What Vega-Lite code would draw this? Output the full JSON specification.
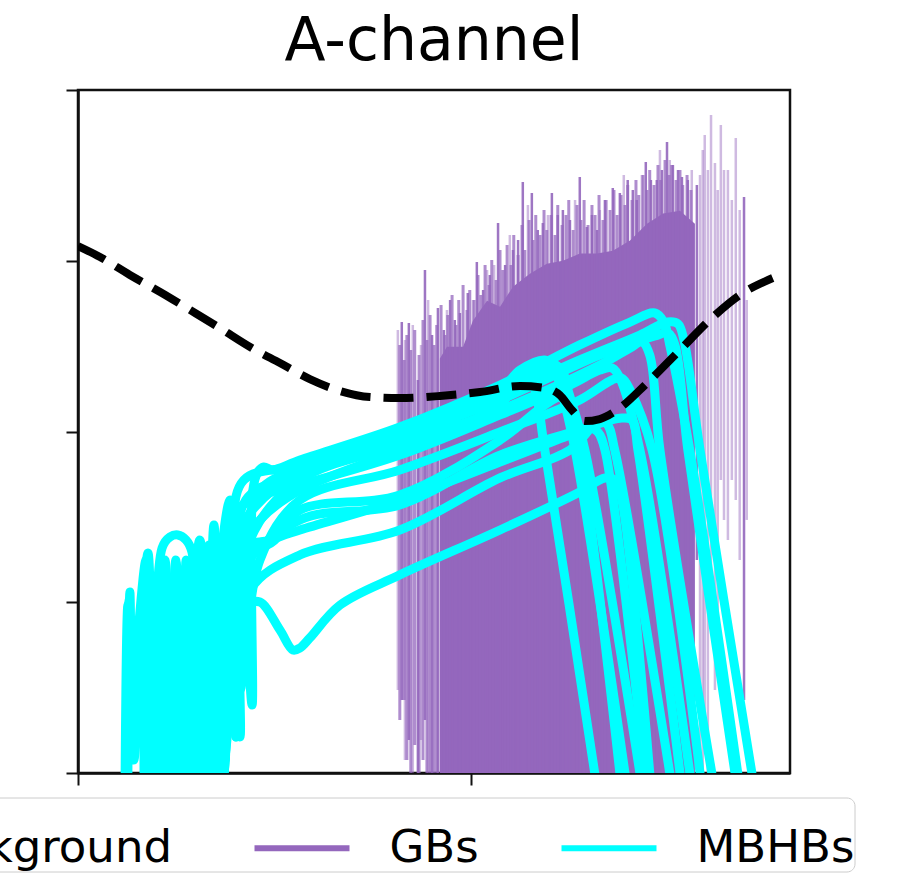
{
  "$schema": "https://vega.github.io/schema/vega-lite/v6.json",
  "width": 712,
  "height": 683,
  "autosize": {"type": "none"},
  "padding": {"left": 78, "top": 90, "right": 113, "bottom": 109},
  "background": "white",
  "title": {"text": "A-channel", "fontSize": 60, "font": "DejaVu Sans", "fontWeight": "normal", "color": "#000", "anchor": "middle", "baseline": "alphabetic", "offset": -31},
  "config": {
    "view": {"stroke": "#111", "strokeWidth": 2.5},
    "axis": {"labels": false, "grid": false, "ticks": true, "tickSize": 12, "tickWidth": 2, "tickColor": "#111", "domainColor": "#111", "domainWidth": 2.5, "zindex": 1}
  },
  "datasets": {
    "bg": [
      {"f": 0, "h": 3.086, "series": "Background"},
      {"f": 0.056, "h": 3.022, "series": "Background"},
      {"f": 0.132, "h": 2.917, "series": "Background"},
      {"f": 0.209, "h": 2.817, "series": "Background"},
      {"f": 0.285, "h": 2.712, "series": "Background"},
      {"f": 0.361, "h": 2.606, "series": "Background"},
      {"f": 0.438, "h": 2.495, "series": "Background"},
      {"f": 0.514, "h": 2.401, "series": "Background"},
      {"f": 0.590, "h": 2.307, "series": "Background"},
      {"f": 0.667, "h": 2.237, "series": "Background"},
      {"f": 0.743, "h": 2.202, "series": "Background"},
      {"f": 0.819, "h": 2.196, "series": "Background"},
      {"f": 0.921, "h": 2.208, "series": "Background"},
      {"f": 1.023, "h": 2.231, "series": "Background"},
      {"f": 1.125, "h": 2.266, "series": "Background"},
      {"f": 1.188, "h": 2.255, "series": "Background"},
      {"f": 1.226, "h": 2.214, "series": "Background"},
      {"f": 1.257, "h": 2.126, "series": "Background"},
      {"f": 1.290, "h": 2.061, "series": "Background"},
      {"f": 1.328, "h": 2.073, "series": "Background"},
      {"f": 1.379, "h": 2.138, "series": "Background"},
      {"f": 1.443, "h": 2.272, "series": "Background"},
      {"f": 1.532, "h": 2.477, "series": "Background"},
      {"f": 1.616, "h": 2.671, "series": "Background"},
      {"f": 1.684, "h": 2.799, "series": "Background"},
      {"f": 1.768, "h": 2.899, "series": "Background"}
    ],
    "gbArea": [
      {"f": 0.921, "h": 2.427},
      {"f": 0.939, "h": 2.497},
      {"f": 0.980, "h": 2.497},
      {"f": 1.005, "h": 2.649},
      {"f": 1.041, "h": 2.766},
      {"f": 1.074, "h": 2.731},
      {"f": 1.107, "h": 2.848},
      {"f": 1.150, "h": 2.924},
      {"f": 1.193, "h": 2.983},
      {"f": 1.234, "h": 3.000},
      {"f": 1.277, "h": 3.042},
      {"f": 1.321, "h": 3.042},
      {"f": 1.361, "h": 3.059},
      {"f": 1.405, "h": 3.118},
      {"f": 1.448, "h": 3.217},
      {"f": 1.489, "h": 3.276},
      {"f": 1.532, "h": 3.293},
      {"f": 1.570, "h": 3.217}
    ],
    "gbMid": [
      {"f": 0.819, "h": 0.310, "h2": 2.507}, {"f": 0.830, "h": 0.428, "h2": 2.419}, {"f": 0.837, "h": 0.076, "h2": 2.565}, {"f": 0.847, "h": 0, "h2": 2.477},
      {"f": 0.857, "h": 0.164, "h2": 2.594}, {"f": 0.868, "h": 0, "h2": 2.448}, {"f": 0.878, "h": 0.076, "h2": 2.653}, {"f": 0.888, "h": 0, "h2": 2.536},
      {"f": 0.896, "h": 0, "h2": 2.682}, {"f": 0.906, "h": 0, "h2": 2.507}, {"f": 0.913, "h": 0, "h2": 2.624}, {"f": 0.924, "h": 0, "h2": 2.741},
      {"f": 0.934, "h": 0, "h2": 2.565}, {"f": 0.941, "h": 0, "h2": 2.682}, {"f": 0.952, "h": 0, "h2": 2.799}, {"f": 0.962, "h": 0, "h2": 2.624},
      {"f": 0.969, "h": 0, "h2": 2.770}, {"f": 0.980, "h": 0, "h2": 2.858}, {"f": 0.990, "h": 0, "h2": 2.712}, {"f": 0.997, "h": 0, "h2": 2.829},
      {"f": 1.008, "h": 0, "h2": 2.770}, {"f": 1.018, "h": 0, "h2": 2.917}, {"f": 1.025, "h": 0, "h2": 2.799}, {"f": 1.036, "h": 0, "h2": 2.975},
      {"f": 1.046, "h": 0, "h2": 2.858}, {"f": 1.053, "h": 0, "h2": 3.004}, {"f": 1.064, "h": 0, "h2": 2.887}, {"f": 1.074, "h": 0, "h2": 3.063},
      {"f": 1.081, "h": 0, "h2": 2.946}, {"f": 1.092, "h": 0, "h2": 3.092}, {"f": 1.102, "h": 0, "h2": 2.975}, {"f": 1.109, "h": 0, "h2": 3.151},
      {"f": 1.120, "h": 0, "h2": 3.034}, {"f": 1.130, "h": 0, "h2": 3.209}, {"f": 1.137, "h": 0, "h2": 3.063}, {"f": 1.148, "h": 0, "h2": 3.239},
      {"f": 1.158, "h": 0, "h2": 3.122}, {"f": 1.165, "h": 0, "h2": 3.268}, {"f": 1.176, "h": 0, "h2": 3.151}, {"f": 1.186, "h": 0, "h2": 3.297},
      {"f": 1.193, "h": 0, "h2": 3.180}, {"f": 1.204, "h": 0, "h2": 3.268}, {"f": 1.214, "h": 0, "h2": 3.151}, {"f": 1.221, "h": 0, "h2": 3.326},
      {"f": 1.232, "h": 0, "h2": 3.209}, {"f": 1.242, "h": 0, "h2": 3.268}, {"f": 1.249, "h": 0, "h2": 3.356}, {"f": 1.260, "h": 0, "h2": 3.180},
      {"f": 1.270, "h": 0, "h2": 3.326}, {"f": 1.280, "h": 0, "h2": 3.239}, {"f": 1.288, "h": 0, "h2": 3.356}, {"f": 1.298, "h": 0, "h2": 3.209},
      {"f": 1.308, "h": 0, "h2": 3.326}, {"f": 1.316, "h": 0, "h2": 3.268}, {"f": 1.326, "h": 0, "h2": 3.385}, {"f": 1.336, "h": 0, "h2": 3.239},
      {"f": 1.344, "h": 0, "h2": 3.356}, {"f": 1.354, "h": 0, "h2": 3.297}, {"f": 1.364, "h": 0, "h2": 3.414}, {"f": 1.372, "h": 0, "h2": 3.268},
      {"f": 1.382, "h": 0, "h2": 3.385}, {"f": 1.392, "h": 0, "h2": 3.326}, {"f": 1.399, "h": 0, "h2": 3.444}, {"f": 1.410, "h": 0, "h2": 3.356},
      {"f": 1.420, "h": 0, "h2": 3.473}, {"f": 1.427, "h": 0, "h2": 3.385}, {"f": 1.438, "h": 0, "h2": 3.502}, {"f": 1.448, "h": 0, "h2": 3.414},
      {"f": 1.455, "h": 0, "h2": 3.531}, {"f": 1.466, "h": 0, "h2": 3.444}, {"f": 1.476, "h": 0, "h2": 3.561}, {"f": 1.483, "h": 0, "h2": 3.473},
      {"f": 1.494, "h": 0, "h2": 3.590}, {"f": 1.504, "h": 0, "h2": 3.502}, {"f": 1.511, "h": 0, "h2": 3.561}, {"f": 1.522, "h": 0, "h2": 3.473},
      {"f": 1.532, "h": 0, "h2": 3.531}, {"f": 1.539, "h": 0, "h2": 3.444}, {"f": 1.550, "h": 0, "h2": 3.502}, {"f": 1.560, "h": 0, "h2": 3.414}
    ],
    "gbBright": [
      {"f": 0.824, "h": 0.428, "h2": 2.641},
      {"f": 0.842, "h": 0.193, "h2": 2.635},
      {"f": 0.865, "h": 0, "h2": 2.302},
      {"f": 0.883, "h": 0.310, "h2": 2.946},
      {"f": 0.901, "h": 0, "h2": 2.565},
      {"f": 0.916, "h": 0, "h2": 2.723},
      {"f": 0.931, "h": 0, "h2": 2.594},
      {"f": 0.947, "h": 0, "h2": 2.770},
      {"f": 0.959, "h": 0, "h2": 2.653},
      {"f": 0.972, "h": 0, "h2": 2.694},
      {"f": 0.992, "h": 0, "h2": 2.811},
      {"f": 1.015, "h": 0, "h2": 2.993},
      {"f": 1.031, "h": 0, "h2": 2.829},
      {"f": 1.048, "h": 0, "h2": 2.917},
      {"f": 1.069, "h": 0, "h2": 3.221},
      {"f": 1.087, "h": 0, "h2": 2.975},
      {"f": 1.107, "h": 0, "h2": 3.063},
      {"f": 1.120, "h": 0, "h2": 3.122},
      {"f": 1.132, "h": 0, "h2": 3.461},
      {"f": 1.155, "h": 0, "h2": 3.397},
      {"f": 1.170, "h": 0, "h2": 3.180},
      {"f": 1.183, "h": 0, "h2": 3.221},
      {"f": 1.206, "h": 0, "h2": 3.397},
      {"f": 1.221, "h": 0, "h2": 3.268},
      {"f": 1.234, "h": 0, "h2": 3.297},
      {"f": 1.252, "h": 0, "h2": 3.239},
      {"f": 1.277, "h": 0, "h2": 3.490},
      {"f": 1.295, "h": 0, "h2": 3.198},
      {"f": 1.308, "h": 0, "h2": 3.268},
      {"f": 1.321, "h": 0, "h2": 3.180},
      {"f": 1.341, "h": 0, "h2": 3.356},
      {"f": 1.361, "h": 0, "h2": 3.426},
      {"f": 1.379, "h": 0, "h2": 3.397},
      {"f": 1.399, "h": 0, "h2": 3.473},
      {"f": 1.412, "h": 0, "h2": 3.414},
      {"f": 1.422, "h": 0, "h2": 3.356},
      {"f": 1.445, "h": 0, "h2": 3.578},
      {"f": 1.458, "h": 0, "h2": 3.473},
      {"f": 1.473, "h": 0, "h2": 3.473},
      {"f": 1.486, "h": 0, "h2": 3.531},
      {"f": 1.499, "h": 0, "h2": 3.695},
      {"f": 1.514, "h": 0, "h2": 3.561},
      {"f": 1.527, "h": 0, "h2": 3.531},
      {"f": 1.537, "h": 0, "h2": 3.490},
      {"f": 1.552, "h": 0, "h2": 3.473},
      {"f": 1.575, "h": 1.247, "h2": 3.444},
      {"f": 1.695, "h": 0.428, "h2": 3.373}
    ],
    "gbFaint": [
      {"f": 0.814, "h": 0.486, "h2": 2.594},
      {"f": 0.832, "h": 0.076, "h2": 2.536},
      {"f": 0.852, "h": 0, "h2": 2.624},
      {"f": 0.873, "h": 0.193, "h2": 2.507},
      {"f": 0.891, "h": 0, "h2": 2.770},
      {"f": 0.939, "h": 0, "h2": 2.712},
      {"f": 1.005, "h": 0, "h2": 2.770},
      {"f": 1.041, "h": 0, "h2": 2.946},
      {"f": 1.059, "h": 0, "h2": 2.975},
      {"f": 1.099, "h": 0, "h2": 3.151},
      {"f": 1.145, "h": 0, "h2": 3.326},
      {"f": 1.196, "h": 0, "h2": 3.268},
      {"f": 1.265, "h": 0, "h2": 3.356},
      {"f": 1.328, "h": 0, "h2": 3.297},
      {"f": 1.389, "h": 0, "h2": 3.502},
      {"f": 1.435, "h": 0, "h2": 3.502},
      {"f": 1.481, "h": 0, "h2": 3.649},
      {"f": 1.506, "h": 0, "h2": 3.590},
      {"f": 1.562, "h": 0.428, "h2": 3.531},
      {"f": 1.583, "h": 0, "h2": 3.502},
      {"f": 1.590, "h": 0, "h2": 3.649},
      {"f": 1.595, "h": 0.310, "h2": 3.736},
      {"f": 1.603, "h": 0, "h2": 3.531},
      {"f": 1.611, "h": 1.013, "h2": 3.854},
      {"f": 1.621, "h": 0.486, "h2": 3.572},
      {"f": 1.628, "h": 0.720, "h2": 3.414},
      {"f": 1.636, "h": 1.716, "h2": 3.795},
      {"f": 1.644, "h": 1.482, "h2": 3.531},
      {"f": 1.654, "h": 1.365, "h2": 3.531},
      {"f": 1.664, "h": 1.716, "h2": 3.356},
      {"f": 1.674, "h": 1.599, "h2": 3.719},
      {"f": 1.684, "h": 1.247, "h2": 3.297},
      {"f": 1.702, "h": 1.482, "h2": 2.770}
    ],
    "mbhb": [
      {"t": 1, "f": 0.349, "h": 0}, {"t": 1, "f": 0.351, "h": 1.247}, {"t": 1, "f": 0.366, "h": 0.193}, {"t": 1, "f": 0.382, "h": 1.365}, {"t": 1, "f": 0.402, "h": 0.211}, {"t": 1, "f": 0.412, "h": 1.482}, {"t": 1, "f": 0.443, "h": 0.398}, {"t": 1, "f": 0.445, "h": 1.657}, {"t": 1, "f": 0.458, "h": 1.763}, {"t": 1, "f": 0.473, "h": 1.792}, {"t": 1, "f": 0.494, "h": 1.775}, {"t": 1, "f": 0.565, "h": 1.833}, {"t": 1, "f": 0.819, "h": 2.026}, {"t": 1, "f": 1.074, "h": 2.272}, {"t": 1, "f": 1.277, "h": 2.507}, {"t": 1, "f": 1.405, "h": 2.641}, {"t": 1, "f": 1.468, "h": 2.694}, {"t": 1, "f": 1.491, "h": 2.641}, {"t": 1, "f": 1.506, "h": 2.507}, {"t": 1, "f": 1.557, "h": 1.892}, {"t": 1, "f": 1.679, "h": 0},
      {"t": 2, "f": 0.127, "h": 0}, {"t": 2, "f": 0.132, "h": 1.060}, {"t": 2, "f": 0.142, "h": 0.076}, {"t": 2, "f": 0.178, "h": 1.288}, {"t": 2, "f": 0.193, "h": 0.310}, {"t": 2, "f": 0.221, "h": 1.247}, {"t": 2, "f": 0.239, "h": 0.428}, {"t": 2, "f": 0.260, "h": 1.189}, {"t": 2, "f": 0.280, "h": 0.486}, {"t": 2, "f": 0.310, "h": 1.365}, {"t": 2, "f": 0.336, "h": 0.896}, {"t": 2, "f": 0.387, "h": 1.599}, {"t": 2, "f": 0.407, "h": 1.247}, {"t": 2, "f": 0.463, "h": 1.657}, {"t": 2, "f": 0.565, "h": 1.786}, {"t": 2, "f": 0.819, "h": 1.997}, {"t": 2, "f": 1.074, "h": 2.214}, {"t": 2, "f": 1.277, "h": 2.419}, {"t": 2, "f": 1.430, "h": 2.565}, {"t": 2, "f": 1.501, "h": 2.641}, {"t": 2, "f": 1.527, "h": 2.630}, {"t": 2, "f": 1.542, "h": 2.536}, {"t": 2, "f": 1.583, "h": 1.892}, {"t": 2, "f": 1.715, "h": 0},
      {"t": 3, "f": 0.170, "h": 0}, {"t": 3, "f": 0.178, "h": 1.277}, {"t": 3, "f": 0.191, "h": 0.076}, {"t": 3, "f": 0.214, "h": 1.318}, {"t": 3, "f": 0.234, "h": 1.382}, {"t": 3, "f": 0.254, "h": 1.394}, {"t": 3, "f": 0.275, "h": 1.365}, {"t": 3, "f": 0.290, "h": 1.294}, {"t": 3, "f": 0.300, "h": 0}, {"t": 3, "f": 0.321, "h": 1.247}, {"t": 3, "f": 0.331, "h": 0.076}, {"t": 3, "f": 0.346, "h": 1.452}, {"t": 3, "f": 0.361, "h": 1.013}, {"t": 3, "f": 0.425, "h": 1.482}, {"t": 3, "f": 0.565, "h": 1.763}, {"t": 3, "f": 0.819, "h": 1.962}, {"t": 3, "f": 1.074, "h": 2.185}, {"t": 3, "f": 1.328, "h": 2.448}, {"t": 3, "f": 1.468, "h": 2.559}, {"t": 3, "f": 1.501, "h": 2.577}, {"t": 3, "f": 1.519, "h": 2.507}, {"t": 3, "f": 1.552, "h": 1.892}, {"t": 3, "f": 1.672, "h": 0},
      {"t": 4, "f": 0.155, "h": 0.269}, {"t": 4, "f": 0.160, "h": 0.896}, {"t": 4, "f": 0.188, "h": 0}, {"t": 4, "f": 0.229, "h": 1.130}, {"t": 4, "f": 0.244, "h": 0}, {"t": 4, "f": 0.270, "h": 1.072}, {"t": 4, "f": 0.285, "h": 0}, {"t": 4, "f": 0.305, "h": 1.130}, {"t": 4, "f": 0.316, "h": 0}, {"t": 4, "f": 0.336, "h": 1.160}, {"t": 4, "f": 0.356, "h": 0}, {"t": 4, "f": 0.371, "h": 1.247}, {"t": 4, "f": 0.387, "h": 0.428}, {"t": 4, "f": 0.438, "h": 1.365}, {"t": 4, "f": 0.565, "h": 1.716}, {"t": 4, "f": 0.819, "h": 1.921}, {"t": 4, "f": 1.074, "h": 2.126}, {"t": 4, "f": 1.328, "h": 2.389}, {"t": 4, "f": 1.405, "h": 2.489}, {"t": 4, "f": 1.435, "h": 2.524}, {"t": 4, "f": 1.455, "h": 2.448}, {"t": 4, "f": 1.481, "h": 1.892}, {"t": 4, "f": 1.613, "h": 0},
      {"t": 5, "f": 0.196, "h": 0}, {"t": 5, "f": 0.204, "h": 1.013}, {"t": 5, "f": 0.221, "h": 0}, {"t": 5, "f": 0.249, "h": 1.072}, {"t": 5, "f": 0.265, "h": 0}, {"t": 5, "f": 0.290, "h": 1.013}, {"t": 5, "f": 0.300, "h": 0}, {"t": 5, "f": 0.326, "h": 1.130}, {"t": 5, "f": 0.341, "h": 0}, {"t": 5, "f": 0.361, "h": 1.189}, {"t": 5, "f": 0.371, "h": 0}, {"t": 5, "f": 0.397, "h": 1.130}, {"t": 5, "f": 0.412, "h": 0.486}, {"t": 5, "f": 0.463, "h": 1.247}, {"t": 5, "f": 0.565, "h": 1.599}, {"t": 5, "f": 0.819, "h": 1.775}, {"t": 5, "f": 1.074, "h": 1.997}, {"t": 5, "f": 1.277, "h": 2.185}, {"t": 5, "f": 1.359, "h": 2.302}, {"t": 5, "f": 1.384, "h": 2.313}, {"t": 5, "f": 1.405, "h": 2.243}, {"t": 5, "f": 1.461, "h": 1.892}, {"t": 5, "f": 1.583, "h": 0},
      {"t": 6, "f": 0.234, "h": 0}, {"t": 6, "f": 0.239, "h": 0.896}, {"t": 6, "f": 0.254, "h": 0}, {"t": 6, "f": 0.275, "h": 0.955}, {"t": 6, "f": 0.295, "h": 0}, {"t": 6, "f": 0.321, "h": 1.013}, {"t": 6, "f": 0.346, "h": 0}, {"t": 6, "f": 0.366, "h": 1.072}, {"t": 6, "f": 0.374, "h": 0.076}, {"t": 6, "f": 0.412, "h": 1.160}, {"t": 6, "f": 0.565, "h": 1.482}, {"t": 6, "f": 0.819, "h": 1.570}, {"t": 6, "f": 1.074, "h": 1.862}, {"t": 6, "f": 1.277, "h": 2.009}, {"t": 6, "f": 1.384, "h": 2.079}, {"t": 6, "f": 1.410, "h": 2.067}, {"t": 6, "f": 1.425, "h": 1.892}, {"t": 6, "f": 1.532, "h": 0},
      {"t": 7, "f": 0.272, "h": 0}, {"t": 7, "f": 0.280, "h": 0.896}, {"t": 7, "f": 0.300, "h": 0}, {"t": 7, "f": 0.331, "h": 1.013}, {"t": 7, "f": 0.351, "h": 0}, {"t": 7, "f": 0.371, "h": 0.955}, {"t": 7, "f": 0.392, "h": 0.428}, {"t": 7, "f": 0.438, "h": 1.072}, {"t": 7, "f": 0.565, "h": 1.277}, {"t": 7, "f": 0.819, "h": 1.423}, {"t": 7, "f": 1.074, "h": 1.728}, {"t": 7, "f": 1.252, "h": 1.892}, {"t": 7, "f": 1.323, "h": 2.056}, {"t": 7, "f": 1.346, "h": 2.044}, {"t": 7, "f": 1.366, "h": 1.892}, {"t": 7, "f": 1.506, "h": 0},
      {"t": 8, "f": 0.168, "h": 0}, {"t": 8, "f": 0.170, "h": 0.955}, {"t": 8, "f": 0.183, "h": 0}, {"t": 8, "f": 0.209, "h": 1.013}, {"t": 8, "f": 0.224, "h": 0}, {"t": 8, "f": 0.260, "h": 1.013}, {"t": 8, "f": 0.275, "h": 0}, {"t": 8, "f": 0.300, "h": 1.072}, {"t": 8, "f": 0.321, "h": 0}, {"t": 8, "f": 0.341, "h": 1.247}, {"t": 8, "f": 0.371, "h": 0}, {"t": 8, "f": 0.392, "h": 1.482}, {"t": 8, "f": 0.402, "h": 0.211}, {"t": 8, "f": 0.427, "h": 1.599}, {"t": 8, "f": 0.565, "h": 1.745}, {"t": 8, "f": 0.819, "h": 2.009}, {"t": 8, "f": 1.074, "h": 2.214}, {"t": 8, "f": 1.150, "h": 2.313}, {"t": 8, "f": 1.214, "h": 2.389}, {"t": 8, "f": 1.234, "h": 2.348}, {"t": 8, "f": 1.247, "h": 2.243}, {"t": 8, "f": 1.290, "h": 1.892}, {"t": 8, "f": 1.430, "h": 0},
      {"t": 9, "f": 0.209, "h": 0}, {"t": 9, "f": 0.214, "h": 0.955}, {"t": 9, "f": 0.234, "h": 0}, {"t": 9, "f": 0.254, "h": 1.013}, {"t": 9, "f": 0.270, "h": 0}, {"t": 9, "f": 0.295, "h": 1.072}, {"t": 9, "f": 0.310, "h": 0}, {"t": 9, "f": 0.326, "h": 1.189}, {"t": 9, "f": 0.341, "h": 0}, {"t": 9, "f": 0.356, "h": 1.247}, {"t": 9, "f": 0.371, "h": 0}, {"t": 9, "f": 0.392, "h": 1.365}, {"t": 9, "f": 0.422, "h": 1.716}, {"t": 9, "f": 0.565, "h": 1.804}, {"t": 9, "f": 0.819, "h": 2.020}, {"t": 9, "f": 1.074, "h": 2.243}, {"t": 9, "f": 1.125, "h": 2.360}, {"t": 9, "f": 1.188, "h": 2.419}, {"t": 9, "f": 1.209, "h": 2.389}, {"t": 9, "f": 1.226, "h": 2.272}, {"t": 9, "f": 1.265, "h": 1.892}, {"t": 9, "f": 1.392, "h": 0},
      {"t": 10, "f": 0.120, "h": 0}, {"t": 10, "f": 0.127, "h": 0.984}, {"t": 10, "f": 0.140, "h": 0.428}, {"t": 10, "f": 0.196, "h": 1.013}, {"t": 10, "f": 0.214, "h": 0}, {"t": 10, "f": 0.234, "h": 1.013}, {"t": 10, "f": 0.249, "h": 0}, {"t": 10, "f": 0.285, "h": 0.955}, {"t": 10, "f": 0.310, "h": 0}, {"t": 10, "f": 0.336, "h": 1.072}, {"t": 10, "f": 0.366, "h": 0}, {"t": 10, "f": 0.402, "h": 1.247}, {"t": 10, "f": 0.463, "h": 1.482}, {"t": 10, "f": 0.565, "h": 1.657}, {"t": 10, "f": 0.819, "h": 1.892}, {"t": 10, "f": 1.074, "h": 2.155}, {"t": 10, "f": 1.112, "h": 2.272}, {"t": 10, "f": 1.137, "h": 2.313}, {"t": 10, "f": 1.158, "h": 2.272}, {"t": 10, "f": 1.188, "h": 1.892}, {"t": 10, "f": 1.315, "h": 0},
      {"t": 11, "f": 0.298, "h": 0}, {"t": 11, "f": 0.305, "h": 0.955}, {"t": 11, "f": 0.321, "h": 0}, {"t": 11, "f": 0.346, "h": 1.013}, {"t": 11, "f": 0.366, "h": 0}, {"t": 11, "f": 0.407, "h": 0.779}, {"t": 11, "f": 0.433, "h": 0.984}, {"t": 11, "f": 0.463, "h": 1.001}, {"t": 11, "f": 0.514, "h": 0.837}, {"t": 11, "f": 0.547, "h": 0.720}, {"t": 11, "f": 0.565, "h": 0.732}, {"t": 11, "f": 0.590, "h": 0.791}, {"t": 11, "f": 0.667, "h": 0.984}, {"t": 11, "f": 0.819, "h": 1.160}, {"t": 11, "f": 1.074, "h": 1.423}, {"t": 11, "f": 1.277, "h": 1.646}, {"t": 11, "f": 1.341, "h": 1.728}, {"t": 11, "f": 1.366, "h": 1.716}, {"t": 11, "f": 1.384, "h": 1.599}, {"t": 11, "f": 1.455, "h": 0},
      {"t": 12, "f": 0.247, "h": 0}, {"t": 12, "f": 0.254, "h": 0.896}, {"t": 12, "f": 0.275, "h": 0}, {"t": 12, "f": 0.300, "h": 1.013}, {"t": 12, "f": 0.316, "h": 0}, {"t": 12, "f": 0.341, "h": 1.072}, {"t": 12, "f": 0.361, "h": 0.076}, {"t": 12, "f": 0.387, "h": 1.130}, {"t": 12, "f": 0.412, "h": 0.211}, {"t": 12, "f": 0.433, "h": 1.247}, {"t": 12, "f": 0.501, "h": 1.365}, {"t": 12, "f": 0.565, "h": 1.540}, {"t": 12, "f": 0.819, "h": 1.628}, {"t": 12, "f": 1.074, "h": 1.950}, {"t": 12, "f": 1.188, "h": 2.155}, {"t": 12, "f": 1.226, "h": 2.202}, {"t": 12, "f": 1.242, "h": 2.185}, {"t": 12, "f": 1.257, "h": 2.067}, {"t": 12, "f": 1.277, "h": 1.892}, {"t": 12, "f": 1.379, "h": 0},
      {"t": 13, "f": 0.183, "h": 0}, {"t": 13, "f": 0.188, "h": 1.013}, {"t": 13, "f": 0.198, "h": 0}, {"t": 13, "f": 0.209, "h": 1.072}, {"t": 13, "f": 0.219, "h": 0}, {"t": 13, "f": 0.229, "h": 1.013}, {"t": 13, "f": 0.239, "h": 0.428}, {"t": 13, "f": 0.254, "h": 1.130}, {"t": 13, "f": 0.265, "h": 0}, {"t": 13, "f": 0.280, "h": 1.072}, {"t": 13, "f": 0.290, "h": 0}, {"t": 13, "f": 0.305, "h": 1.189}, {"t": 13, "f": 0.321, "h": 0}, {"t": 13, "f": 0.336, "h": 1.247}, {"t": 13, "f": 0.351, "h": 0}, {"t": 13, "f": 0.366, "h": 1.277}, {"t": 13, "f": 0.377, "h": 0.428}, {"t": 13, "f": 0.412, "h": 1.306}, {"t": 13, "f": 0.489, "h": 1.365}, {"t": 13, "f": 0.565, "h": 1.423}, {"t": 13, "f": 0.819, "h": 1.599}, {"t": 13, "f": 1.074, "h": 1.821}, {"t": 13, "f": 1.252, "h": 1.979}, {"t": 13, "f": 1.303, "h": 2.020}, {"t": 13, "f": 1.323, "h": 1.997}, {"t": 13, "f": 1.341, "h": 1.892}, {"t": 13, "f": 1.443, "h": 0},
      {"t": 14, "f": 0.122, "h": 0}, {"t": 14, "f": 0.130, "h": 1.013}, {"t": 14, "f": 0.135, "h": 0.428}, {"t": 14, "f": 0.173, "h": 1.247}, {"t": 14, "f": 0.181, "h": 0}, {"t": 14, "f": 0.191, "h": 1.130}, {"t": 14, "f": 0.204, "h": 0}, {"t": 14, "f": 0.219, "h": 1.189}, {"t": 14, "f": 0.232, "h": 0.545}, {"t": 14, "f": 0.249, "h": 1.247}, {"t": 14, "f": 0.265, "h": 0}, {"t": 14, "f": 0.275, "h": 1.247}, {"t": 14, "f": 0.288, "h": 0}, {"t": 14, "f": 0.303, "h": 1.277}, {"t": 14, "f": 0.318, "h": 0}, {"t": 14, "f": 0.333, "h": 1.335}, {"t": 14, "f": 0.346, "h": 0}, {"t": 14, "f": 0.361, "h": 1.365}, {"t": 14, "f": 0.371, "h": 0.428}, {"t": 14, "f": 0.392, "h": 1.482}, {"t": 14, "f": 0.438, "h": 1.599}, {"t": 14, "f": 0.565, "h": 1.687}, {"t": 14, "f": 0.819, "h": 1.862}, {"t": 14, "f": 1.074, "h": 2.097}, {"t": 14, "f": 1.252, "h": 2.272}, {"t": 14, "f": 1.328, "h": 2.360}, {"t": 14, "f": 1.359, "h": 2.372}, {"t": 14, "f": 1.379, "h": 2.313}, {"t": 14, "f": 1.430, "h": 1.892}, {"t": 14, "f": 1.557, "h": 0}
    ]
  },
  "encoding": {
    "x": {"field": "f", "type": "quantitative", "scale": {"domain": [0, 1.812], "nice": false, "zero": false}, "axis": {"values": [0, 1], "title": null}},
    "y": {"field": "h", "type": "quantitative", "scale": {"domain": [0, 4], "nice": false, "zero": false}, "axis": {"values": [0, 1, 2, 3, 4], "title": null}}
  },
  "layer": [
    {
      "data": {"name": "gbFaint"},
      "mark": {"type": "rule", "color": "#9467bd", "strokeWidth": 2.5, "opacity": 0.45, "clip": true},
      "encoding": {"y2": {"field": "h2"}}
    },
    {
      "data": {"name": "gbArea"},
      "mark": {"type": "area", "color": "#9467bd", "opacity": 1, "clip": true}
    },
    {
      "data": {"name": "gbMid"},
      "mark": {"type": "rule", "color": "#9467bd", "strokeWidth": 3, "opacity": 0.75, "clip": true},
      "encoding": {"y2": {"field": "h2"}}
    },
    {
      "data": {"name": "gbBright"},
      "mark": {"type": "rule", "color": "#9467bd", "strokeWidth": 2.5, "opacity": 0.9, "clip": true},
      "encoding": {"y2": {"field": "h2"}}
    },
    {
      "data": {"name": "mbhb"},
      "transform": [{"window": [{"op": "row_number", "as": "i"}]}],
      "mark": {"type": "line", "color": "#00ffff", "strokeWidth": 9, "strokeCap": "round", "strokeJoin": "round", "interpolate": "catmull-rom", "clip": true},
      "encoding": {
        "detail": {"field": "t", "type": "nominal"},
        "order": {"field": "i", "type": "quantitative"}
      }
    },
    {
      "data": {"name": "bg"},
      "mark": {"type": "line", "strokeWidth": 8, "strokeDash": [30, 13], "interpolate": "monotone", "clip": true},
      "encoding": {
        "color": {
          "field": "series", "type": "nominal",
          "scale": {"domain": ["Background", "GBs", "MBHBs"], "range": ["#000000", "#9467bd", "#00ffff"]},
          "legend": {
            "orient": "none", "legendX": -312.5, "legendY": 707.5, "direction": "horizontal", "columns": 3,
            "title": null, "symbolType": "stroke", "symbolSize": 9025, "symbolStrokeWidth": 6,
            "labelFontSize": 45, "labelFont": "DejaVu Sans", "labelColor": "#000000", "labelOffset": 37, "labelLimit": 600,
            "columnPadding": 70, "padding": 0, "fillColor": "#ffffff", "strokeColor": "#cccccc", "cornerRadius": 8,
            "encode": {"symbols": {"update": {"strokeWidth": {"value": 6}, "strokeDash": {"value": [1, 0]}, "opacity": {"value": 1}}}}
          }
        }
      }
    }
  ]
}
